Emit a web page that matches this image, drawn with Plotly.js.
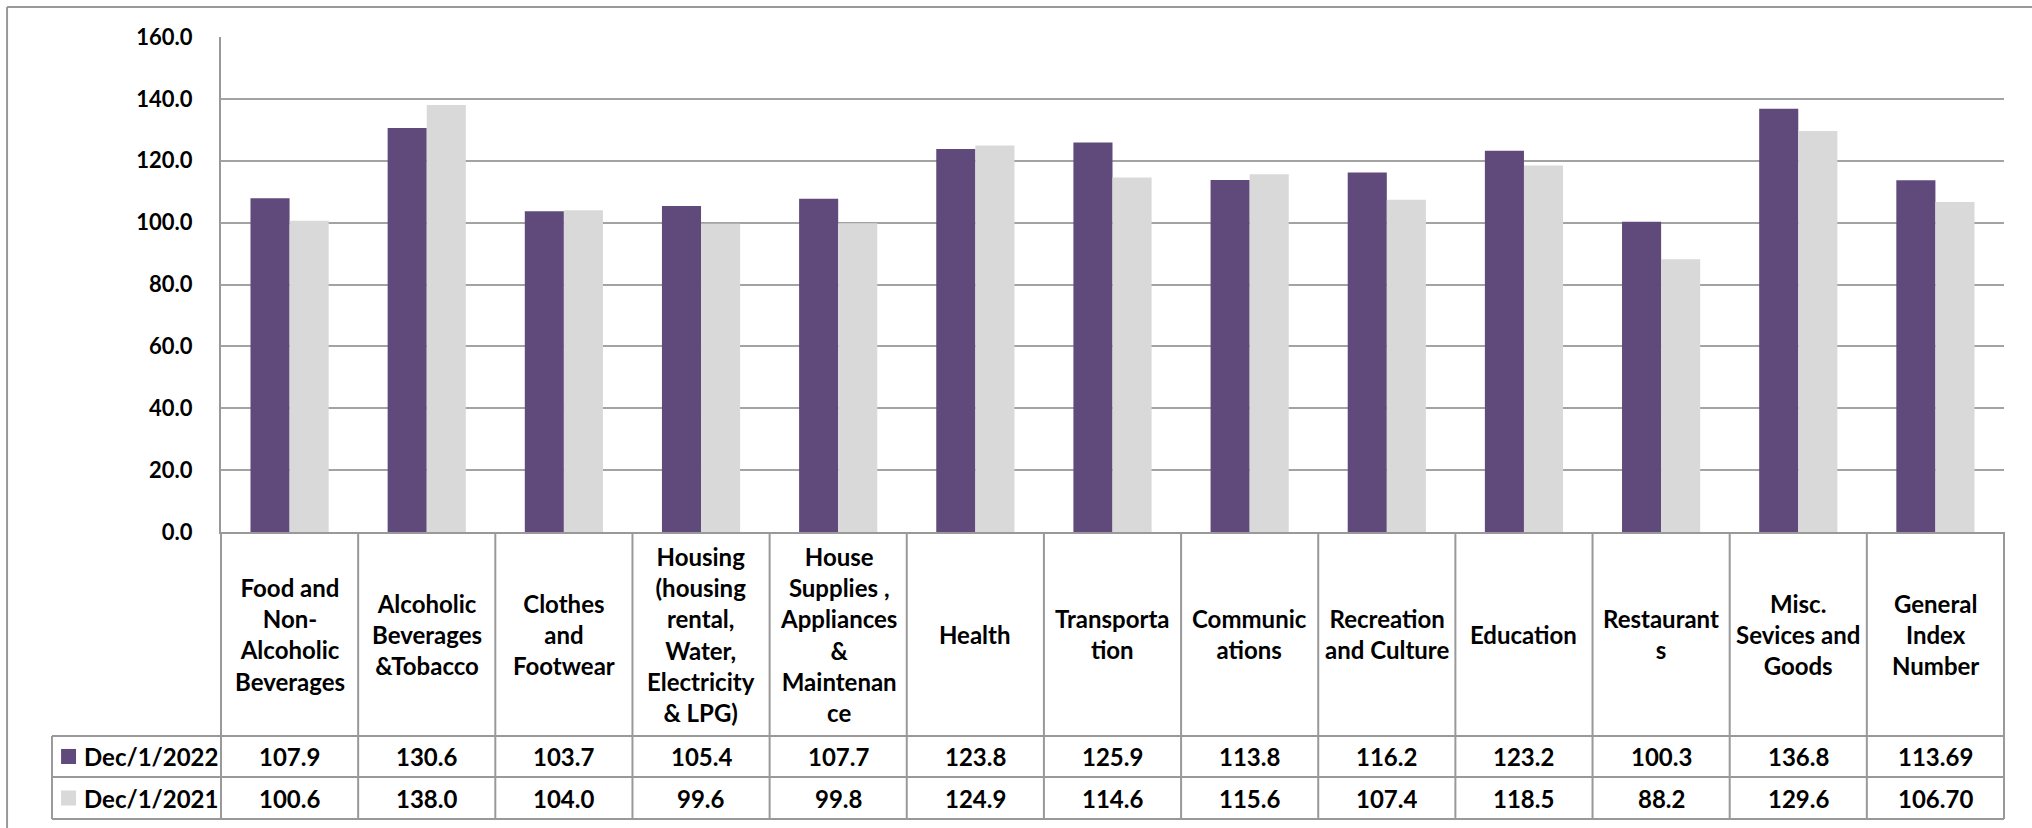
<!DOCTYPE html>
<html>
<head>
<meta charset="utf-8">
<script src="https://cdn.plot.ly/plotly-3.0.1.min.js"></script>
<style>html,body{margin:0;padding:0;background:#fff;}#chart{width:2032px;height:828px;}</style>
</head>
<body>
<div id="chart"></div>
<script>
const categories = [
  'Food and<br>Non-<br>Alcoholic<br>Beverages',
  'Alcoholic<br>Beverages<br>&Tobacco',
  'Clothes<br>and<br>Footwear',
  'Housing<br>(housing<br>rental,<br>Water,<br>Electricity<br>& LPG)',
  'House<br>Supplies ,<br>Appliances<br>&<br>Maintenan<br>ce',
  'Health',
  'Transporta<br>tion',
  'Communic<br>ations',
  'Recreation<br>and Culture',
  'Education',
  'Restaurant<br>s',
  'Misc.<br>Sevices and<br>Goods',
  'General<br>Index<br>Number'
];
const dec2022 = [107.9, 130.6, 103.7, 105.4, 107.7, 123.8, 125.9, 113.8, 116.2, 123.2, 100.3, 136.8, 113.69];
const dec2021 = [100.6, 138.0, 104.0, 99.6, 99.8, 124.9, 114.6, 115.6, 107.4, 118.5, 88.2, 129.6, 106.70];
const valueDecimals = [1,1,1,1,1,1,1,1,1,1,1,1,2];
const seriesNames = ['Dec/1/2022', 'Dec/1/2021'];
const seriesColors = ['#604a7b', '#d9d9d9'];
const yTickValues = [0, 20, 40, 60, 80, 100, 120, 140, 160];

const FONT = 'Lato, "Open Sans", sans-serif';
const LINE = '#999999';
const n = categories.length;

// table geometry in paper coordinates (plot area: y 0..1)
const yHeaderMid = -0.2061, yRow1Top = -0.4121, yRow1Mid = -0.4535, yRow1Bot = -0.4949, yRow2Mid = -0.5374, yRow2Bot = -0.5798;
const xLegendLeft = -0.0948;

const traces = [dec2022, dec2021].map((vals, i) => ({
  type: 'bar',
  x: categories,
  y: vals,
  name: seriesNames[i],
  marker: {color: seriesColors[i], line: {width: 0}},
  hoverinfo: 'skip'
}));

const shapes = [];
const annotations = [];
const hl = (x0, x1, y) => shapes.push({type:'line', xref:'paper', yref:'paper', x0, x1, y0:y, y1:y, line:{color:LINE, width:2}});
const vl = (x, y0, y1) => shapes.push({type:'line', xref:'paper', yref:'paper', x0:x, x1:x, y0, y1, line:{color:LINE, width:2}});

// table vertical lines
for (let i = 0; i <= n; i++) vl(i / n, 0, yRow2Bot);
vl(xLegendLeft, yRow1Top, yRow2Bot);
hl(xLegendLeft, 1, yRow1Top);
hl(xLegendLeft, 1, yRow1Bot);
hl(xLegendLeft, 1, yRow2Bot);

// outer chart border (top and left visible)
hl(-0.1200, 1.03, 1.0606);
vl(-0.1200, 1.0606, -0.62);

// header labels
categories.forEach((c) => annotations.push({
  xref:'x', yref:'paper', x:c, y:yHeaderMid, text:c, showarrow:false,
  xanchor:'center', yanchor:'middle', align:'center',
  font:{family:FONT, size:24, color:'#000', weight:'bold'}
}));
// values
[dec2022, dec2021].forEach((vals, s) => {
  const yMid = s === 0 ? yRow1Mid : yRow2Mid;
  vals.forEach((v, i) => annotations.push({
    xref:'x', yref:'paper', x:categories[i], y:yMid, text:v.toFixed(valueDecimals[i]), showarrow:false,
    xanchor:'center', yanchor:'middle',
    font:{family:FONT, size:24, color:'#000', weight:'bold'}
  }));
  // legend key
  shapes.push({type:'rect', xref:'paper', yref:'paper', x0:-0.0897, x1:-0.0813,
    y0:yMid - 0.0152, y1:yMid + 0.0152, fillcolor:seriesColors[s], line:{width:0}});
  annotations.push({xref:'paper', yref:'paper', x:-0.0780, y:yMid, text:seriesNames[s], showarrow:false,
    xanchor:'left', yanchor:'middle', font:{family:FONT, size:24, color:'#000', weight:'bold'}});
});

const layout = {
  width: 2032, height: 828,
  margin: {l:221, r:28, t:37, b:296, pad:0},
  paper_bgcolor:'#fff', plot_bgcolor:'#fff',
  showlegend:false,
  barmode:'group', bargap:0.43, bargroupgap:0,
  font:{family:FONT, color:'#000'},
  xaxis:{type:'category', range:[-0.5, n - 0.5], showticklabels:false, ticks:'', showgrid:false,
    showline:true, linecolor:LINE, linewidth:2, zeroline:false, fixedrange:true},
  yaxis:{range:[0,160], tickvals:yTickValues, tickformat:'.1f', showgrid:true, gridcolor:'#a3a3a3', gridwidth:2,
    showline:true, linecolor:LINE, linewidth:2, zeroline:false, ticks:'', ticklabelstandoff:22,
    tickfont:{family:FONT, size:22, color:'#000', weight:'bold'}, fixedrange:true},
  shapes, annotations
};

Plotly.newPlot('chart', traces, layout, {displayModeBar:false, staticPlot:true});
</script>
</body>
</html>
